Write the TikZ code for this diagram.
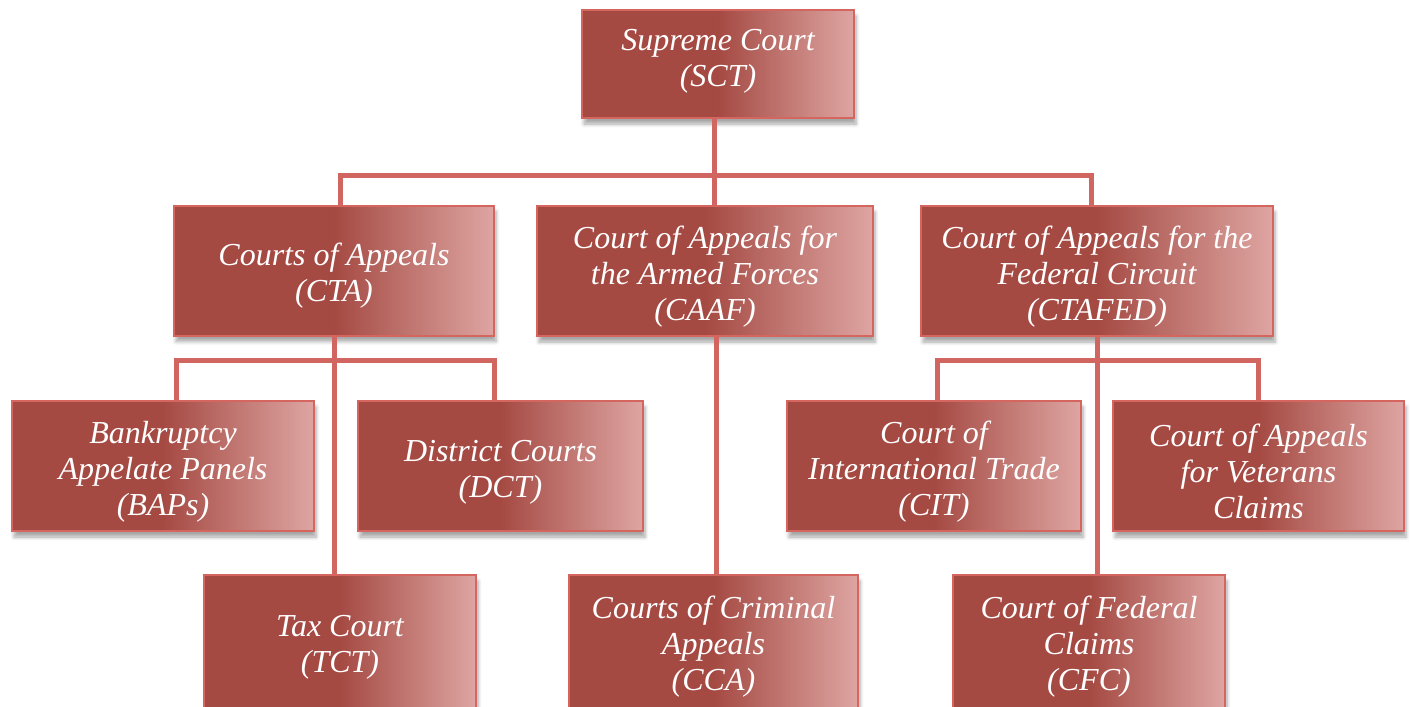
\documentclass[tikz,border=0pt]{standalone}
\usepackage{fontspec}
\setmainfont{Liberation Serif}
\usepackage{xcolor}
\usetikzlibrary{shadows.blur}

\definecolor{courtdark}{HTML}{A54A43}
\definecolor{courtlight}{HTML}{DEA5A2}
\definecolor{courtedge}{HTML}{D4665F}
\definecolor{courtline}{HTML}{D0665F}
\pgfdeclarehorizontalshading{courtshade}{100bp}{color(0bp)=(courtdark); color(50bp)=(courtdark); color(75bp)=(courtlight); color(100bp)=(courtlight)}

% struts that push the first line down a little
\newcommand{\liftmid}{\rule{0pt}{16.5pt}}
\newcommand{\liftlow}{\rule{0pt}{14.5pt}}

\tikzset{
  court/.style={draw=courtedge, line width=1pt, shading=courtshade,
    blur shadow={shadow xshift=1pt, shadow yshift=-3pt, shadow blur steps=6, shadow opacity=35},
    text=white, align=center, inner sep=0pt, minimum height=65pt,
    font=\fontsize{16}{18}\selectfont\itshape},
  sink/.style={execute at end node={\rule[-#1]{0pt}{#1}}},
  link/.style={draw=courtline, line width=2.5pt}
}

\begin{document}
\begin{tikzpicture}[x=0.5pt, y=-0.5pt]
            \useasboundingbox (0, 0) rectangle (1410, 707);
            \coordinate (topbar) at (0, 175);
            \coordinate (lowbar) at (0, 360);

            \node[court, sink=6pt, minimum width=136pt, minimum height=54pt] (sct) at (718, 64) {Supreme Court\\(SCT)};

            \node[court, minimum width=160pt] (cta) at (334, 270.5) {\liftmid Courts of Appeals\\(CTA)};
            \node[court, minimum width=168pt] (caaf) at (705, 271) {\liftmid Court of Appeals for\\the Armed Forces\\(CAAF)};
            \node[court, minimum width=176pt] (ctafed) at (1097, 271) {\liftmid Court of Appeals for the\\Federal Circuit\\(CTAFED)};

            \node[court, minimum width=151pt] (baps) at (163, 466) {\liftmid Bankruptcy\\Appelate Panels\\(BAPs)};
            \node[court, minimum width=142.5pt] (dct) at (500.5, 466) {\liftmid District Courts\\(DCT)};
            \node[court, minimum width=147pt] (cit) at (934, 466) {\liftmid Court of\\International Trade\\(CIT)};
            \node[court, minimum width=145.5pt] (cavc) at (1258.5, 466) {\liftmid Court of Appeals\\for Veterans\\Claims};

            \node[court, minimum width=136pt, minimum height=68pt] (tct) at (340, 643) {\liftlow Tax Court\\(TCT)};
            \node[court, minimum width=144.5pt, minimum height=68pt] (cca) at (713.5, 643) {\liftlow Courts of Criminal\\Appeals\\(CCA)};
            \node[court, minimum width=136pt, minimum height=68pt] (cfc) at (1089, 643) {\liftlow Court of Federal\\Claims\\(CFC)};

            % supreme court to the three appeal courts
            \draw[link] ([xshift=-2pt]sct.south) -- ([xshift=-2pt]sct.south |- caaf.north);
            \draw[link] ([xshift=3pt]cta.north) |- ([xshift=-3pt]ctafed.north |- topbar) -- ([xshift=-3pt]ctafed.north);

            % courts of appeals
            \draw[link] ([xshift=6.5pt]baps.north) |- ([xshift=-3pt]dct.north |- lowbar) -- ([xshift=-3pt]dct.north);
            \draw[link] (cta.south) -- (cta.south |- tct.north);

            % armed forces
            \draw[link] ([xshift=5.5pt]caaf.south) -- ([xshift=5.5pt]caaf.south |- cca.north);

            % federal circuit
            \draw[link] ([xshift=1.5pt]cit.north) |- (cavc.north |- lowbar) -- (cavc.north);
            \draw[link] (ctafed.south) -- (ctafed.south |- cfc.north);
        \end{tikzpicture}
\end{document}
